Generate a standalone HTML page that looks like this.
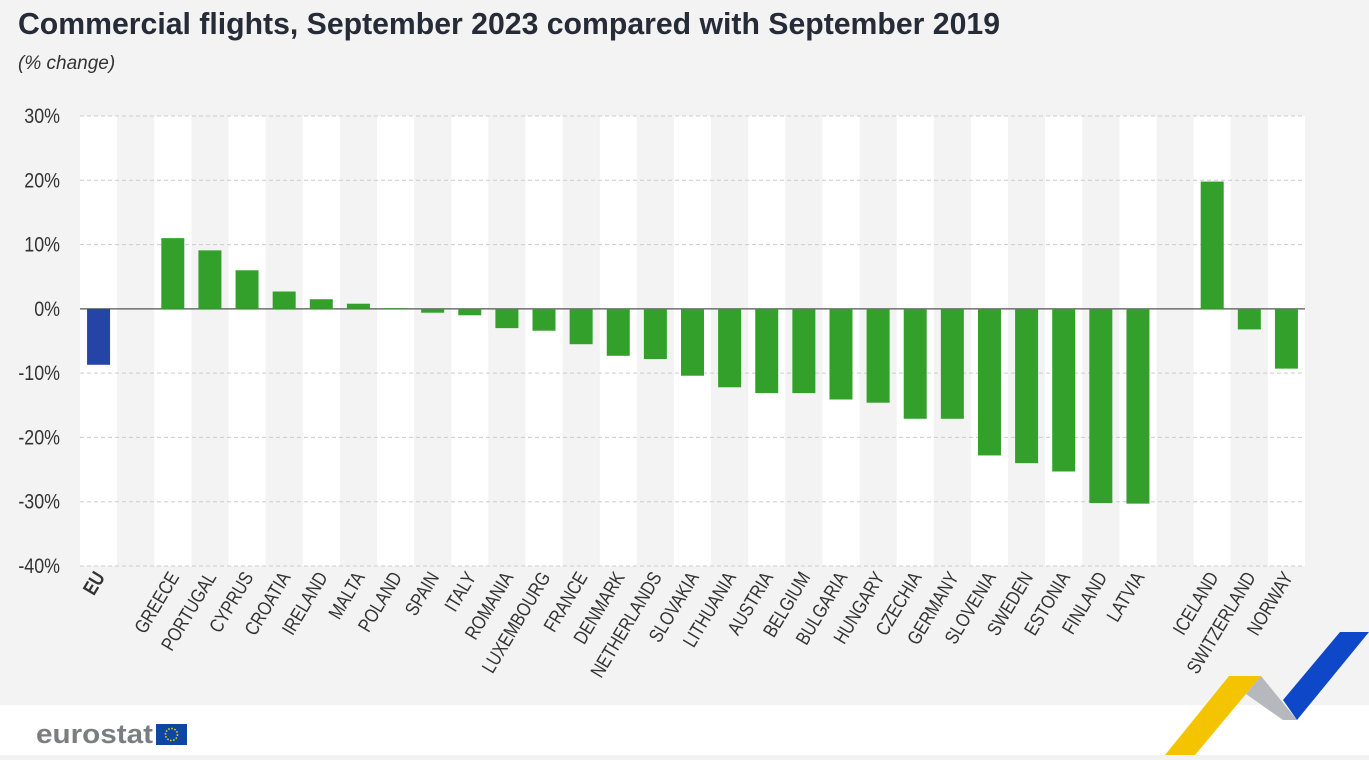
<!DOCTYPE html>
<html><head><meta charset="utf-8"><style>
body{margin:0;width:1369px;height:755px;overflow:hidden;background:#f2f2f2;font-family:"Liberation Sans",sans-serif}
</style></head><body>
<svg id="chart" width="1369" height="755" xmlns="http://www.w3.org/2000/svg">
<rect x="0" y="0" width="1369" height="705" fill="#f3f3f3"/>
<rect x="0" y="705" width="1369" height="50" fill="#ffffff"/>
<text x="18" y="34" font-size="31" font-weight="bold" fill="#262b38" textLength="982" lengthAdjust="spacingAndGlyphs">Commercial flights, September 2023 compared with September 2019</text>
<text x="18" y="69" font-size="19" font-style="italic" fill="#333">(% change)</text>
<g id="plot"></g>
<text x="36" y="743" font-size="27" font-weight="bold" fill="#7b7d80" textLength="117" lengthAdjust="spacingAndGlyphs">eurostat</text>
<rect x="156" y="724" width="31" height="21" fill="#0e47a1"/>
<circle cx="171.5" cy="734.5" r="6" fill="none" stroke="#f5d000" stroke-width="1.6" stroke-dasharray="1.5 1.6"/>
<polygon points="1229,676 1261,676 1195,755 1165,755" fill="#f5c400"/>
<polygon points="1261,676 1297,720 1283,720 1246,694" fill="#b5b8bc"/>
<polygon points="1340,632 1369,632 1297,720 1283,700" fill="#0e47c8"/>
</svg>
<script>
const categories=["EU","","GREECE","PORTUGAL","CYPRUS","CROATIA","IRELAND","MALTA","POLAND","SPAIN","ITALY","ROMANIA","LUXEMBOURG","FRANCE","DENMARK","NETHERLANDS","SLOVAKIA","LITHUANIA","AUSTRIA","BELGIUM","BULGARIA","HUNGARY","CZECHIA","GERMANY","SLOVENIA","SWEDEN","ESTONIA","FINLAND","LATVIA","","ICELAND","SWITZERLAND","NORWAY"];
const values=[-8.7,null,11,9.1,6,2.7,1.5,0.8,0.1,-0.6,-1,-3,-3.4,-5.5,-7.3,-7.8,-10.4,-12.2,-13.1,-13.1,-14.1,-14.6,-17.1,-17.1,-22.8,-24,-25.3,-30.2,-30.3,null,19.8,-3.2,-9.3];
const ticks=[30,20,10,0,-10,-20,-30,-40];
const tickLabels=["30%","20%","10%","0%","-10%","-20%","-30%","-40%"];
const NS="http://www.w3.org/2000/svg";
const g=document.getElementById('plot');
const X0=80,X1=1305,Y0=116,Y1=566,vmax=30,vmin=-40;
const slot=(X1-X0)/categories.length;
const y=v=>Y0+(vmax-v)/(vmax-vmin)*(Y1-Y0);
const x=i=>X0+i*slot;
function mk(t,a){const e=document.createElementNS(NS,t);for(const k in a)e.setAttribute(k,a[k]);g.appendChild(e);return e;}
categories.forEach((c,i)=>{if(i%2===0){const r=mk('rect',{x:x(i),y:Y0,width:slot,height:Y1-Y0,fill:'#ffffff'});

}});
ticks.forEach((t,i)=>{const l=mk('line',{x1:X0,x2:X1,y1:y(t),y2:y(t),stroke:t===0?'#555':'#ccc','stroke-width':t===0?1.2:1,'stroke-dasharray':t===0?'':'4 3'});


const tx=mk('text',{x:0,y:0,'font-size':21,fill:'#333','text-anchor':'end',transform:`translate(60 ${y(t)+7}) scale(0.85 1)`});tx.textContent=tickLabels[i];

});
categories.forEach((c,i)=>{const v=values[i];if(v!==null){const bw=23,cx=x(i)+slot/2;
const b=mk('rect',{x:cx-bw/2,y:Math.min(y(v),y(0)),width:bw,height:Math.abs(y(v)-y(0)),fill:i===0?'#2644a6':'#33a02c'});

}
if(c){const cx=x(i)+slot/2+7;const tx=mk('text',{x:0,y:0,'font-size':i===0?20:19.5,'font-weight':i===0?'bold':'normal',fill:'#333','text-anchor':'end',transform:`translate(${cx} 577) rotate(-59) scale(0.82 1)`});
tx.textContent=c;

}});
</script>
</body></html>
